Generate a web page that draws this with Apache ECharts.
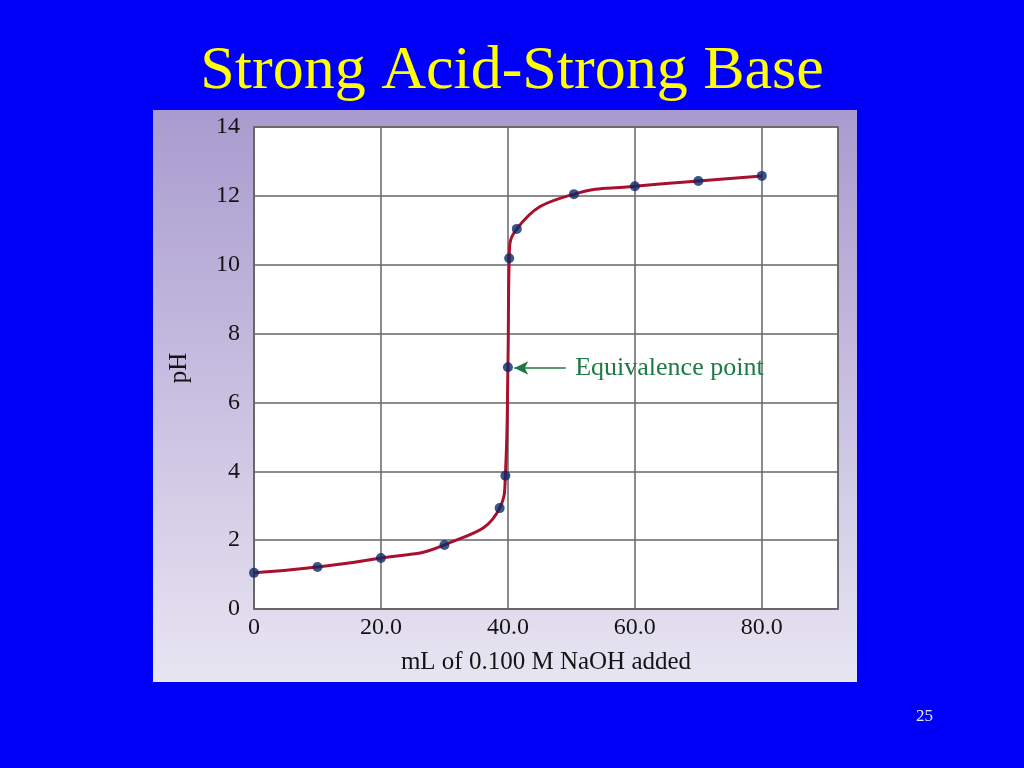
<!DOCTYPE html>
<html>
<head>
<meta charset="utf-8">
<script src="https://cdn.jsdelivr.net/npm/echarts@6/dist/echarts.min.js"></script>
<style>html,body{margin:0;padding:0;background:#0000f8;}#c{width:1024px;height:768px;}</style>
</head>
<body>
<div id="c"></div>
<script>
// Data
const volumeML = [0, 10, 20, 30, 38.7, 39.6, 40.0, 40.2, 41.4, 50.4, 60, 70, 80];
const pHValues = [1.05, 1.22, 1.48, 1.86, 2.93, 3.87, 7.02, 10.19, 11.04, 12.05, 12.28, 12.43, 12.58];
const xTickLabels = {0: '0', 20: '20.0', 40: '40.0', 60: '60.0', 80: '80.0'};
const yTicks = [0, 2, 4, 6, 8, 10, 12, 14];
const titleText = 'Strong Acid-Strong Base';
const annotationText = 'Equivalence point';
const annotationPH = 7.0;
const arrowFrom = 49.1, arrowTo = 41.0, annotationX = 50.6;
const pageNumber = '25';

const pts = volumeML.map((v, i) => [v, pHValues[i]]);
const chart = echarts.init(document.getElementById('c'), null, {renderer: 'canvas'});
const serif = '"Liberation Serif", "DejaVu Serif", serif';

chart.setOption({
  backgroundColor: '#0000f8',
  animation: false,
  title: {
    text: titleText, left: 'center', top: 36,
    textStyle: {color: '#ffff00', fontFamily: serif, fontSize: 62, fontWeight: 'normal'}
  },
  graphic: [
    {type: 'rect', z: -10, shape: {x: 153, y: 110, width: 704, height: 572},
     style: {fill: new echarts.graphic.LinearGradient(0, 0, 0, 1, [
       {offset: 0, color: '#a99bcf'}, {offset: 1, color: '#e8e5f2'}])}},
    {type: 'text', left: 916, top: 708, z: 5,
     style: {text: pageNumber, fill: '#e8e8ff', fontFamily: serif, fontSize: 17}}
  ],
  grid: {left: 254, right: 186, top: 127, bottom: 159, show: true, backgroundColor: '#ffffff', borderColor: '#666', borderWidth: 1.5},
  xAxis: {
    type: 'value', min: 0, max: 92, interval: 20,
    name: 'mL of 0.100 M NaOH added', nameLocation: 'middle', nameGap: 41,
    nameTextStyle: {color: '#141414', fontFamily: serif, fontSize: 25},
    axisLine: {show: true, lineStyle: {color: '#666', width: 1.5}},
    axisTick: {show: false},
    splitLine: {show: true, lineStyle: {color: '#666', width: 1.5}},
    axisLabel: {color: '#141414', fontFamily: serif, fontSize: 24, margin: 7, showMaxLabel: false,
      formatter: v => xTickLabels[v] !== undefined ? xTickLabels[v] : ''}
  },
  yAxis: {
    type: 'value', min: 0, max: 14, interval: 2,
    name: 'pH', nameLocation: 'middle', nameGap: 62, nameRotate: 90,
    nameTextStyle: {color: '#141414', fontFamily: serif, fontSize: 25},
    axisLine: {show: true, lineStyle: {color: '#666', width: 1.5}},
    axisTick: {show: false},
    splitLine: {show: true, lineStyle: {color: '#666', width: 1.5}},
    axisLabel: {color: '#141414', fontFamily: serif, fontSize: 24, margin: 14,
      formatter: v => yTicks.indexOf(v) >= 0 ? String(v) : ''}
  },
  series: [
    {type: 'line', data: pts, smooth: 0.5, symbol: 'none',
     lineStyle: {color: '#a8102e', width: 3}, z: 3,
     markLine: {silent: true, symbol: ['none', 'arrow'], symbolSize: [10, 14],
       lineStyle: {color: '#1d7a45', width: 1.5, type: 'solid'},
       label: {show: false},
       data: [[{coord: [arrowFrom, annotationPH]}, {coord: [arrowTo, annotationPH]}]]}},
    {type: 'scatter', data: pts, symbol: 'circle', symbolSize: 10,
     itemStyle: {color: '#0e2868'}, z: 4}
  ]
});

const p = chart.convertToPixel({gridIndex: 0}, [annotationX, annotationPH]);
chart.setOption({graphic: [{}, {}, {type: 'text', x: p[0], y: p[1], z: 6,
  style: {text: annotationText, fill: '#1d7a45', fontFamily: serif, fontSize: 26, textVerticalAlign: 'middle'}}]});
</script>
</body>
</html>
